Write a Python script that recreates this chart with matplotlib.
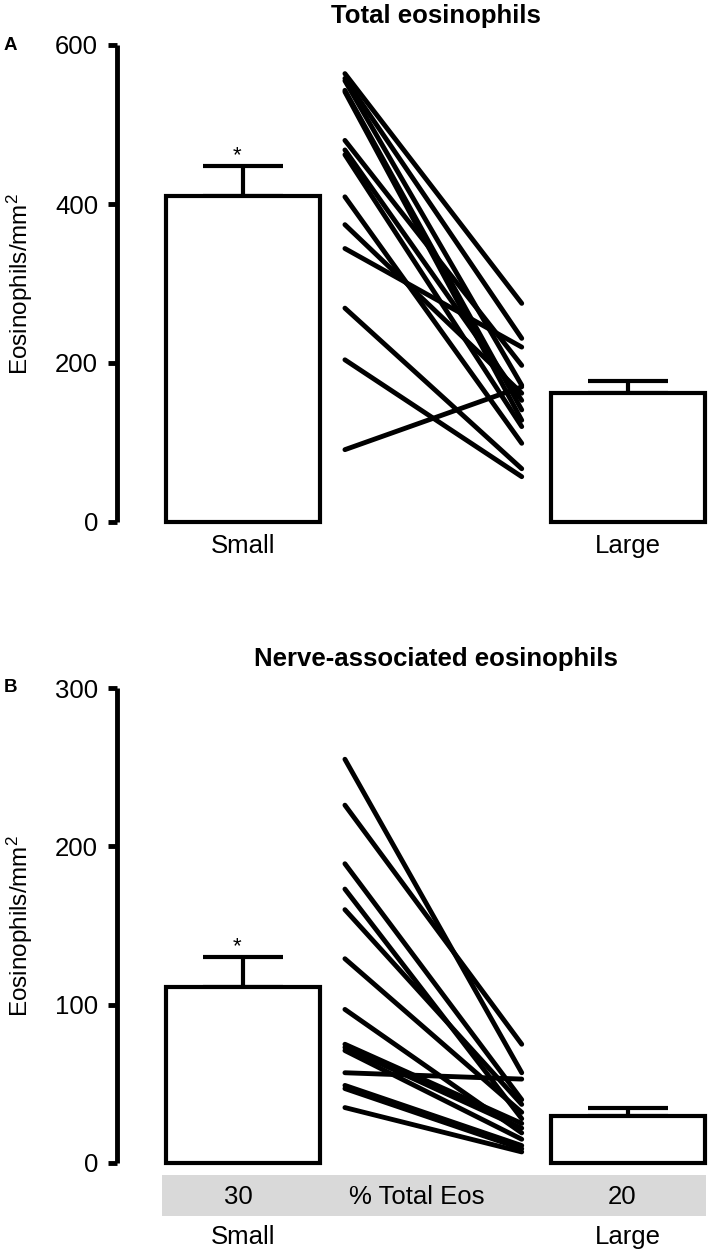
import matplotlib
matplotlib.use("Agg")
import matplotlib.pyplot as plt
import matplotlib.transforms as mtransforms
from matplotlib.patches import Rectangle

plt.rcParams["font.family"] = ["Liberation Sans", "DejaVu Sans"]
plt.rcParams["mathtext.default"] = "regular"

# ---- data -------------------------------------------------------------
groups = ["Small", "Large"]

# Panel A: total eosinophils
total_mean = [410, 162]
total_sem = [38, 15]
total_small = [564, 558, 555, 543, 541, 480, 468, 462, 409, 374, 344, 269, 204, 91]
total_large = [275, 231, 172, 141, 128, 197, 153, 120, 99, 162, 220, 67, 57, 170]

# Panel B: nerve-associated eosinophils
nerve_mean = [111, 30]
nerve_sem = [19, 5]
nerve_small = [255, 226, 189, 173, 160, 129, 97, 75, 73, 71, 57, 49, 47, 35]
nerve_large = [57, 75, 40, 28, 37, 32, 19, 25, 22, 15, 53, 11, 9, 7]

pct_labels = ["30", "% Total Eos", "20"]

# ---- layout -----------------------------------------------------------
W, H = 709, 1254
XPOS = [0, 2.5]          # bar centres
LINE_X = [0.662, 1.81]   # paired-line endpoints
XLIM = (-0.818, 3.026)
FS = 18.5


def style_axis(ax, ymax, step):
    ax.set_xlim(*XLIM)
    ax.set_ylim(0, ymax)
    for s in ("top", "right", "bottom"):
        ax.spines[s].set_visible(False)
    ax.spines["left"].set_linewidth(3.5)
    ax.spines["left"].set_capstyle("butt")
    ax.set_yticks(range(0, ymax + 1, step))
    ax.tick_params(axis="y", width=3.5, length=6.5, labelsize=FS, pad=7)
    ax.set_xticks([])
    ax.set_ylabel("Eosinophils/mm$^2$", fontsize=17.5)
    # label's right edge sits ~34 px from the figure edge
    ax.yaxis.set_label_coords(-0.138, 0.5)


def draw_panel(ax, means, sems, small, large):
    for a, b in zip(small, large):
        ax.plot(LINE_X, [a, b], color="black", lw=3.5,
                solid_capstyle="round", zorder=3)
    ax.errorbar(XPOS, means, yerr=[[0, 0], sems], fmt="none", ecolor="black",
                elinewidth=3, capsize=29, capthick=3, zorder=1)
    ax.bar(XPOS, means, width=1.0, facecolor="white", edgecolor="black",
           linewidth=3, zorder=2, clip_on=False)
    ax.text(XPOS[0] - 0.04, means[0] + sems[0], "*", ha="center",
            va="bottom", fontsize=16)


fig = plt.figure(figsize=(W / 100, H / 100), dpi=100)

ax_a = fig.add_axes([117 / W, (H - 522) / H, (W - 117) / W, 477 / H])
draw_panel(ax_a, total_mean, total_sem, total_small, total_large)
style_axis(ax_a, 600, 200)
trans_a = mtransforms.blended_transform_factory(ax_a.transData, ax_a.transAxes)
for x, lab in zip(XPOS, groups):
    ax_a.text(x, -0.05, lab, ha="center", va="center", fontsize=FS,
              transform=trans_a)

ax_b = fig.add_axes([117 / W, (H - 1163) / H, (W - 117) / W, 475 / H])
draw_panel(ax_b, nerve_mean, nerve_sem, nerve_small, nerve_large)
style_axis(ax_b, 300, 100)
trans_b = mtransforms.blended_transform_factory(ax_b.transData, ax_b.transAxes)
ax_b.add_patch(Rectangle((-0.526, -0.112), 3.532, 0.087, transform=trans_b,
                         facecolor="#d9d9d9", edgecolor="none", clip_on=False))
pct_x = [XPOS[0] - 0.03, 1.13, XPOS[1] - 0.04]
for x, lab in zip(pct_x, pct_labels):
    ax_b.text(x, -0.072, lab, ha="center", va="center", fontsize=FS,
              transform=trans_b)
for x, lab in zip(XPOS, groups):
    ax_b.text(x, -0.155, lab, ha="center", va="center", fontsize=FS,
              transform=trans_b)

# titles and panel letters
fig.text(436 / W, 1 - 16 / H, "Total eosinophils", ha="center", va="center",
         fontsize=FS, fontweight="bold")
fig.text(436 / W, 1 - 659 / H, "Nerve-associated eosinophils", ha="center",
         va="center", fontsize=FS, fontweight="bold")
fig.text(4 / W, 1 - 46 / H, "A", ha="left", va="center", fontsize=13.5,
         fontweight="bold")
fig.text(4 / W, 1 - 687 / H, "B", ha="left", va="center", fontsize=13.5,
         fontweight="bold")

fig.savefig("out.png", dpi=100)
